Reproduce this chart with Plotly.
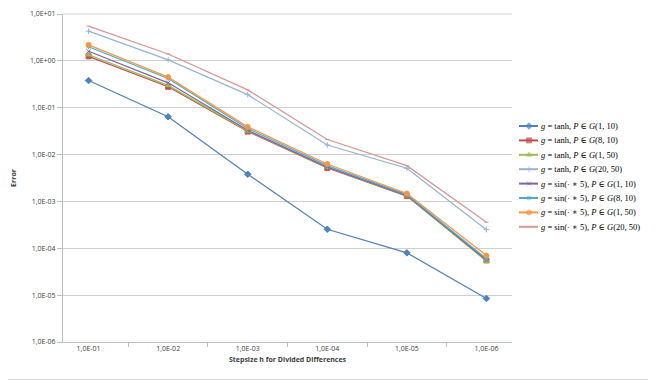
import plotly.graph_objects as go

# step sizes h (categories on the x axis)
steps = ["1,0E-01", "1,0E-02", "1,0E-03", "1,0E-04", "1,0E-05", "1,0E-06"]

# error values
tanh_1_10 = [0.38, 0.064, 0.0038, 2.55e-4, 8.0e-5, 8.5e-6]
tanh_8_10 = [1.25, 0.28, 0.031, 0.0052, 0.0013, 5.5e-5]
tanh_1_50 = [1.35, 0.30, 0.032, 0.0053, 0.00132, 5.3e-5]
tanh_20_50 = [4.3, 1.05, 0.19, 0.016, 0.0051, 2.5e-4]
sin_1_10 = [1.6, 0.34, 0.033, 0.0054, 0.00135, 5.6e-5]
sin_8_10 = [2.0, 0.42, 0.036, 0.0058, 0.0014, 6.0e-5]
sin_1_50 = [2.2, 0.45, 0.039, 0.0063, 0.00148, 7.0e-5]
sin_20_50 = [5.5, 1.4, 0.24, 0.021, 0.0058, 3.6e-4]

ytick_vals = [1e1, 1e0, 1e-1, 1e-2, 1e-3, 1e-4, 1e-5, 1e-6]
ytick_text = ["1,0E+01", "1,0E+00", "1,0E-01", "1,0E-02", "1,0E-03", "1,0E-04", "1,0E-05", "1,0E-06"]

series = [
    ("<i>g</i> = tanh, <i>P</i> ∈ <i>G</i>(1, 10)", tanh_1_10, "#4F81BD", "diamond", 5),
    ("<i>g</i> = tanh, <i>P</i> ∈ <i>G</i>(8, 10)", tanh_8_10, "#C0504D", "square", 5),
    ("<i>g</i> = tanh, <i>P</i> ∈ <i>G</i>(1, 50)", tanh_1_50, "#9BBB59", "triangle-up", 5),
    ("<i>g</i> = tanh, <i>P</i> ∈ <i>G</i>(20, 50)", tanh_20_50, "#95B3D7", "cross-thin", 4),
    ("<i>g</i> = sin(· ∗ 5), <i>P</i> ∈ <i>G</i>(1, 10)", sin_1_10, "#8064A2", "x-thin", 4),
    ("<i>g</i> = sin(· ∗ 5), <i>P</i> ∈ <i>G</i>(8, 10)", sin_8_10, "#4BACC6", "asterisk", 4),
    ("<i>g</i> = sin(· ∗ 5), <i>P</i> ∈ <i>G</i>(1, 50)", sin_1_50, "#F79646", "circle", 5),
    ("<i>g</i> = sin(· ∗ 5), <i>P</i> ∈ <i>G</i>(20, 50)", sin_20_50, "#D99694", "line-ew", 3),
]

# the page body has an 8px margin, so the figure is drawn 8px in from the window corner;
# all pixel numbers below are window coordinates
OFF = 8
W, H = 656 - OFF, 380 - OFF
L, R, T, B = 63, 512, 14, 342   # main plot area in the window
RIGHT = 656                      # paper extends to the right window edge (legend zone)


def px(x):
    return (x - L) / (RIGHT - L)


def py(y):
    return (B - y) / (B - T)


fig = go.Figure()
for name, vals, col, sym, sz in series:
    fig.add_trace(go.Scatter(
        x=steps, y=vals, name=name, mode="lines+markers", showlegend=False,
        line=dict(color=col, width=1.25),
        marker=dict(symbol=sym, size=sz, color=col, line=dict(color=col, width=1)),
    ))

# hand-made compact legend (Excel style, tighter rows than plotly allows)
leg_y0, leg_dy = 126, 14.4
leg_rows = [leg_y0 + i * leg_dy for i in range(len(series))]
for (name, vals, col, sym, sz), ry in zip(series, leg_rows):
    fig.add_shape(type="line", xref="paper", yref="paper", layer="below",
                  x0=px(519), x1=px(538), y0=py(ry), y1=py(ry),
                  line=dict(color=col, width=2))
    fig.add_annotation(x=px(539), y=py(ry), xref="paper", yref="paper",
                       text=name, showarrow=False, xanchor="left", yanchor="middle",
                       font=dict(family="Liberation Serif, DejaVu Serif, serif",
                                 size=8.5, color="black"))
fig.add_trace(go.Scatter(
    x=[528.5] * len(series), y=leg_rows, xaxis="x2", yaxis="y2",
    mode="markers", cliponaxis=False, showlegend=False, hoverinfo="skip",
    marker=dict(symbol=[s[3] for s in series], size=[s[4] for s in series],
                color=[s[2] for s in series],
                line=dict(color=[s[2] for s in series], width=1)),
))

axis_font = dict(family="Open Sans, Liberation Sans, sans-serif", size=7, color="#404040")

fig.update_layout(
    xaxis=dict(
        domain=[0, px(R)],
        type="category", tickson="boundaries", ticks="outside", ticklen=4,
        tickcolor="#BFBFBF", showline=True, linecolor="#BFBFBF", linewidth=1,
        showgrid=False, tickfont=axis_font,
        title=dict(text="<b>Stepsize h for Divided Differences</b>", font=axis_font, standoff=4),
    ),
    yaxis=dict(
        type="log", range=[-6, 1], tickvals=ytick_vals, ticktext=ytick_text,
        ticks="outside", ticklen=5, tickcolor="#BFBFBF", showline=True,
        linecolor="#BFBFBF", linewidth=1, showgrid=True, gridcolor="#D0D0D0",
        gridwidth=1, tickfont=axis_font, zeroline=False, ticklabeloverflow="allow",
        title=dict(text="<b>Error</b>", font=axis_font, standoff=12),
    ),
    xaxis2=dict(domain=[px(R) + 0.001, 1], range=[R, RIGHT], visible=False, anchor="y2"),
    yaxis2=dict(domain=[0, 1], range=[B, T], visible=False, anchor="x2"),
)

# top grid line at 1E+01 (drawn as a shape so it is not lost at the plot edge)
fig.add_shape(type="line", xref="paper", yref="paper", layer="below",
              x0=0, x1=px(R), y0=1, y1=1, line=dict(color="#D0D0D0", width=1))

# light frame around the whole chart, like an Excel chart area
fig.add_shape(type="rect", xref="paper", yref="paper",
              x0=px(0.5), x1=px(654.5), y0=py(379.5), y1=py(0.5),
              line=dict(color="#D9D9D9", width=1))

fig.update_layout(
    width=W, height=H,
    margin=dict(l=L - OFF, r=0, t=T - OFF, b=H - (B - OFF), autoexpand=False),
    paper_bgcolor="white", plot_bgcolor="white",
    showlegend=False,
)

fig.write_html("out.html")
